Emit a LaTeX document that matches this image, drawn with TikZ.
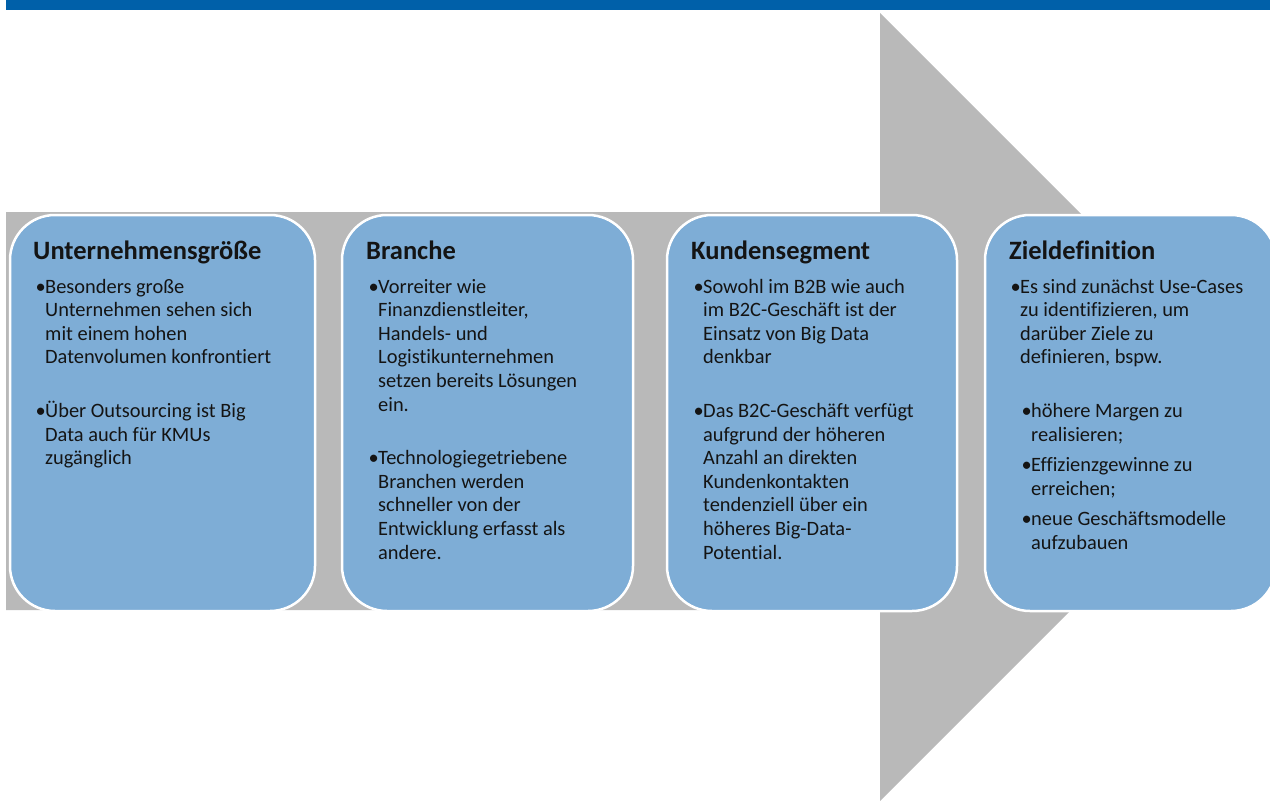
\documentclass[tikz,border=0pt]{standalone}
\usepackage{fontspec}
\setmainfont{Carlito}[Ligatures=NoCommon]
\definecolor{barblue}{HTML}{0060A9}
\definecolor{arrowgrey}{HTML}{B9B9B9}
\definecolor{boxblue}{HTML}{7EADD6}
\definecolor{txt}{HTML}{141414}
\newcommand{\itm}[2][0pt]{\par\hangindent=\dimexpr#1+10pt\relax\hangafter=1\noindent\hspace*{#1}\makebox[10pt][l]{\hspace{0.5pt}\textbullet}#2\par}
\newcommand{\bodytext}[1]{\parbox[t]{300pt}{\fontsize{20.4}{23.6}\selectfont\parindent=0pt\let\\\newline #1}}
\tikzset{
  stagebox/.style={draw=white, line width=2.5pt, fill=boxblue, rounded corners=45pt},
  titletext/.style={anchor=base west, inner sep=0pt, text=txt, font=\fontsize{26.5}{30}\selectfont\bfseries},
  bodynode/.style={anchor=base west, inner sep=0pt, text=txt},
}
\begin{document}
\begin{tikzpicture}[x=1pt,y=-1pt]
\useasboundingbox (0,0) rectangle (1270,801);
\begin{scope}
\clip (0,0) rectangle (1270,801);
% top bar
\fill[barblue] (6,0) rectangle (1270,10);
% grey arrow
\fill[arrowgrey] (6,212) -- (880,212) -- (880,13) -- (1274,407) -- (880,801) -- (880,610) -- (6,610) -- cycle;
% boxes
\draw[stagebox] (10,215) rectangle (315,611);
\draw[stagebox] (342,215) rectangle (633,611);
\draw[stagebox] (667,215) rectangle (957,611);
\draw[stagebox] (985,215) rectangle (1276,611);
\end{scope}
% titles
\node[titletext] (t1) at (33,259) {Unternehmensgröße};
\node[titletext] (t2) at (366,259) {Branche};
\node[titletext] (t3) at (691,259) {Kundensegment};
\node[titletext] (t4) at (1009,259) {Zieldefinition};
% bodies
\node[bodynode] (b1) at (35,293) {\bodytext{%
\itm{Besonders große\\Unternehmen sehen sich\\mit einem hohen\\Datenvolumen konfrontiert}
\vspace{30pt}
\itm{Über Outsourcing ist Big\\Data auch für KMUs\\zugänglich}}};
\node[bodynode] (b2) at (368,293) {\bodytext{%
\itm{Vorreiter wie\\Finanzdienstleiter,\\Handels- und\\Logistikunternehmen\\setzen bereits Lösungen\\ein.}
\vspace{30pt}
\itm{Technologiegetriebene\\Branchen werden\\schneller von der\\Entwicklung erfasst als\\andere.}}};
\node[bodynode] (b3) at (693,293) {\bodytext{%
\itm{Sowohl im B2B wie auch\\im B2C-Geschäft ist der\\Einsatz von Big Data\\denkbar}
\vspace{30pt}
\itm{Das B2C-Geschäft verfügt\\aufgrund der höheren\\Anzahl an direkten\\Kundenkontakten\\tendenziell über ein\\höheres Big-Data-\\Potential.}}};
\node[bodynode] (b4) at (1010,293) {\bodytext{%
\itm{Es sind zunächst Use-Cases\\zu identifizieren, um\\darüber Ziele zu\\definieren, bspw.}
\vspace{30pt}
\itm[11pt]{höhere Margen zu\\realisieren;}
\vspace{7pt}
\itm[11pt]{Effizienzgewinne zu\\erreichen;}
\vspace{7pt}
\itm[11pt]{neue Geschäftsmodelle\\aufzubauen}}};
\end{tikzpicture}
\end{document}
